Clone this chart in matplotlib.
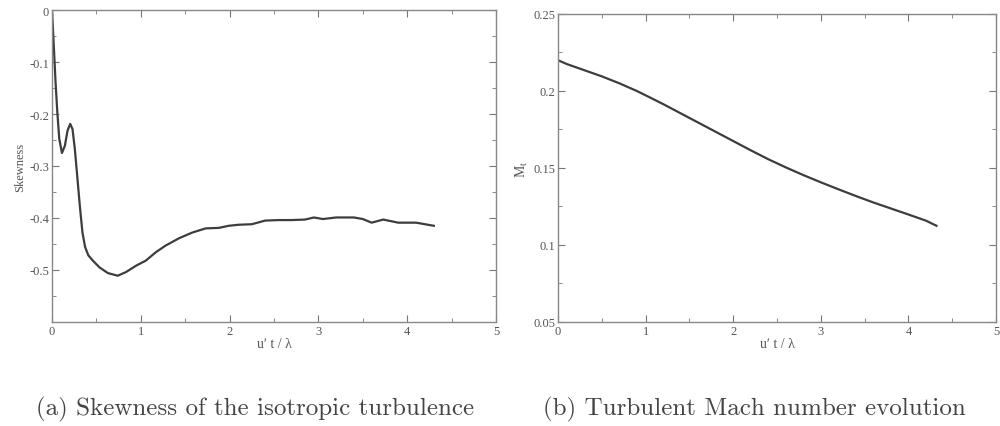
import numpy as np
import matplotlib
matplotlib.use("Agg")
import matplotlib.pyplot as plt
from matplotlib.ticker import MultipleLocator

# skewness curve (a)
t_skew = [0.0, 0.022, 0.04, 0.06, 0.082, 0.112, 0.145, 0.175, 0.205, 0.231, 0.257,
          0.284, 0.313, 0.343, 0.373, 0.41, 0.46, 0.535, 0.63, 0.74, 0.833, 0.944,
          1.056, 1.168, 1.28, 1.43, 1.58, 1.73, 1.88, 1.99, 2.1, 2.25, 2.4, 2.55,
          2.7, 2.85, 2.95, 3.05, 3.2, 3.4, 3.5, 3.6, 3.73, 3.9, 4.1, 4.3]
skew = [0.0, -0.075, -0.139, -0.197, -0.248, -0.275, -0.261, -0.232, -0.219, -0.229, -0.267,
        -0.319, -0.376, -0.428, -0.456, -0.472, -0.482, -0.495, -0.506, -0.511, -0.504, -0.492,
        -0.482, -0.466, -0.453, -0.439, -0.428, -0.420, -0.419, -0.415, -0.413, -0.412, -0.405, -0.404,
        -0.404, -0.403, -0.399, -0.402, -0.399, -0.399, -0.402, -0.409, -0.403, -0.409, -0.409, -0.415]

# turbulent Mach number (b)
t_mach = [0.0, 0.1, 0.2, 0.35, 0.5, 0.7, 0.9, 1.0, 1.2, 1.4, 1.6, 1.8, 2.0, 2.2, 2.4,
          2.6, 2.8, 3.0, 3.2, 3.4, 3.6, 3.8, 4.0, 4.2, 4.32]
mach = [0.220, 0.2175, 0.2155, 0.2125, 0.2095, 0.205, 0.200, 0.1972, 0.1915, 0.1855,
        0.1795, 0.1735, 0.1675, 0.1615, 0.1557, 0.1504, 0.1454, 0.1407, 0.1362, 0.1318,
        0.1276, 0.1237, 0.1198, 0.1158, 0.1125]

captions = ["(a) Skewness of the isotropic turbulence", "(b) Turbulent Mach number evolution"]

plt.rcParams['font.family'] = 'Liberation Serif'
txt = '#555555'
line_c = '#3d3d3d'

fig = plt.figure(figsize=(10, 4.27), dpi=100)
ax1 = fig.add_axes([0.052, 0.2436, 0.444, 0.7306])
ax2 = fig.add_axes([0.558, 0.2436, 0.438, 0.7213])

ax1.plot(t_skew, skew, color=line_c, lw=1.6, solid_joinstyle='round')
ax1.set_xlim(0, 5)
ax1.set_ylim(-0.6, 0)
ax1.set_yticks([-0.5, -0.4, -0.3, -0.2, -0.1, 0])
ax1.set_yticklabels(['-0.5', '-0.4', '-0.3', '-0.2', '-0.1', '0'])
ax1.yaxis.set_minor_locator(MultipleLocator(0.05))
ax1.set_ylabel('Skewness', color=txt, fontsize=9, labelpad=2)

ax2.plot(t_mach, mach, color=line_c, lw=1.6, solid_joinstyle='round')
ax2.set_xlim(0, 5)
ax2.set_ylim(0.05, 0.25)
ax2.set_yticks([0.05, 0.1, 0.15, 0.2, 0.25])
ax2.set_yticklabels(['0.05', '0.1', '0.15', '0.2', '0.25'])
ax2.yaxis.set_minor_locator(MultipleLocator(0.025))
ax2.set_ylabel(r'M$_\mathregular{t}$', color=txt, fontsize=10, labelpad=2)

for ax in (ax1, ax2):
    ax.xaxis.set_major_locator(MultipleLocator(1))
    ax.xaxis.set_minor_locator(MultipleLocator(0.5))
    ax.set_xlabel(u'u\u02b9 t / \u03bb', color=txt, fontsize=10, labelpad=0)
    ax.tick_params(which='both', direction='in', top=True, right=True,
                   colors='#777777', labelcolor=txt, labelsize=9, pad=2)
    ax.tick_params(which='major', length=5)
    ax.tick_params(which='minor', length=3)
    for s in ax.spines.values():
        s.set_color('#888888')
        s.set_linewidth(1.0)

fig.text(0.255, 0.04, captions[0], ha='center', va='center', fontsize=18,
         family='cmr10', color='#444444')
fig.text(0.754, 0.04, captions[1], ha='center', va='center', fontsize=18,
         family='cmr10', color='#444444')

fig.savefig('out.png', dpi=100)
